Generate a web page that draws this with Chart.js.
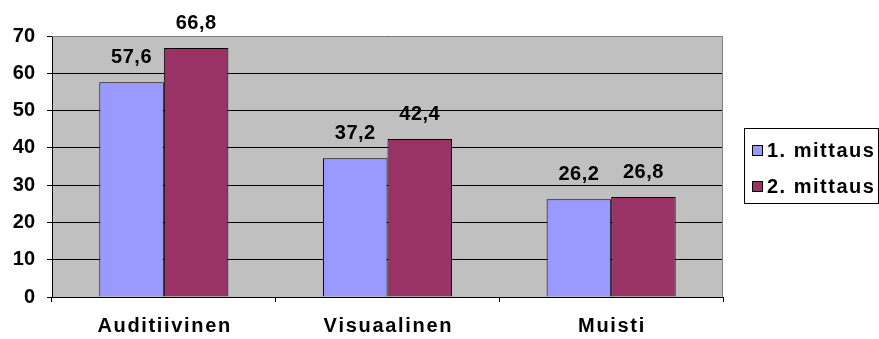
<!DOCTYPE html>
<html><head><meta charset="utf-8">
<script src="https://cdn.jsdelivr.net/npm/chart.js@4/dist/chart.umd.min.js"></script>
<style>html,body{margin:0;padding:0;background:#fff;}#wrap{width:879px;height:339px;}</style>
</head><body><div id="wrap"><canvas id="c" width="879" height="339"></canvas></div>
<script>
const categories = ["Auditiivinen", "Visuaalinen", "Muisti"];
const series1 = [57.6, 37.2, 26.2];
const series2 = [66.8, 42.4, 26.8];
const seriesNames = ["1. mittaus", "2. mittaus"];
const yTicks = [0, 10, 20, 30, 40, 50, 60, 70];
const colors = ["#9999FF", "#993366"];
const FONT = "'Liberation Sans', Arial, sans-serif";

const bgPlugin = {
  id: 'bg',
  beforeDraw(chart) {
    const a = chart.chartArea, ctx = chart.ctx;
    ctx.save();
    ctx.fillStyle = '#C0C0C0';
    ctx.fillRect(a.left, a.top, a.right - a.left, a.bottom - a.top);
    ctx.restore();
  },
  beforeDatasetsDraw(chart) {
    const a = chart.chartArea, ctx = chart.ctx;
    ctx.save();
    ctx.strokeStyle = '#808080';
    ctx.lineWidth = 1;
    ctx.beginPath();
    ctx.moveTo(a.left, a.top + 0.5); ctx.lineTo(a.right, a.top + 0.5);
    ctx.moveTo(a.right - 0.5, a.top); ctx.lineTo(a.right - 0.5, a.bottom);
    ctx.stroke();
    ctx.restore();
  },
  afterDatasetsDraw(chart) {
    const ctx = chart.ctx;
    ctx.save();
    ctx.font = "bold 20px " + FONT;
    ctx.letterSpacing = '0.5px';
    ctx.fillStyle = '#000';
    ctx.textAlign = 'center';
    ctx.textBaseline = 'alphabetic';
    chart.data.datasets.forEach((ds, i) => {
      const meta = chart.getDatasetMeta(i);
      meta.data.forEach((bar, j) => {
        const txt = String(ds.data[j]).replace('.', ',');
        ctx.fillText(txt, bar.x, bar.y - 19);
      });
    });
    const lx = 744, ly = 128, lw = 135, lh = 76;
    ctx.strokeStyle = '#000';
    ctx.lineWidth = 1;
    ctx.strokeRect(lx + 0.5, ly + 0.5, lw - 1, lh - 1);
    ctx.textAlign = 'left';
    ctx.textBaseline = 'middle';
    ctx.font = "bold 20px " + FONT;
    ctx.letterSpacing = '1.5px';
    chart.data.datasets.forEach((ds, i) => {
      const cy = 150 + i * 36;
      ctx.fillStyle = ds.backgroundColor;
      ctx.fillRect(752, cy - 5, 11, 11);
      ctx.strokeRect(752.5, cy - 4.5, 10, 10);
      ctx.fillStyle = '#000';
      ctx.fillText(ds.label, 767, cy + 1);
    });
    ctx.restore();
  }
};

new Chart(document.getElementById('c'), {
  type: 'bar',
  data: {
    labels: categories,
    datasets: [
      { label: seriesNames[0], data: series1, backgroundColor: colors[0], borderColor: '#000', borderWidth: 1 },
      { label: seriesNames[1], data: series2, backgroundColor: colors[1], borderColor: '#000', borderWidth: 1 }
    ]
  },
  options: {
    responsive: false,
    animation: false,
    devicePixelRatio: 1,
    layout: { padding: { left: 0, top: 36, right: 156, bottom: 0 } },
    plugins: { legend: { display: false }, tooltip: { enabled: false } },
    datasets: { bar: { categoryPercentage: 0.577, barPercentage: 1.0 } },
    scales: {
      x: {
        afterFit(s) { s.height = 42; },
        grid: { drawOnChartArea: false, drawTicks: true, tickLength: 5, color: '#000', offset: true },
        border: { display: true, color: '#000', width: 1 },
        ticks: { color: '#000', font: { family: FONT, size: 20, weight: 'bold' }, padding: 12,
                 callback(v) { return categories[v].split('').join('\u200A'); } }
      },
      y: {
        min: 0, max: 70,
        afterFit(s) { s.width = 52; },
        afterBuildTicks(s) { s.ticks = yTicks.map(v => ({ value: v })); },
        grid: { color: '#000', lineWidth: 1, drawTicks: true, tickLength: 5 },
        border: { display: true, color: '#000', width: 1 },
        ticks: { color: '#000', font: { family: FONT, size: 20, weight: 'bold' }, padding: 12 }
      }
    }
  },
  plugins: [bgPlugin]
});
</script></body></html>
